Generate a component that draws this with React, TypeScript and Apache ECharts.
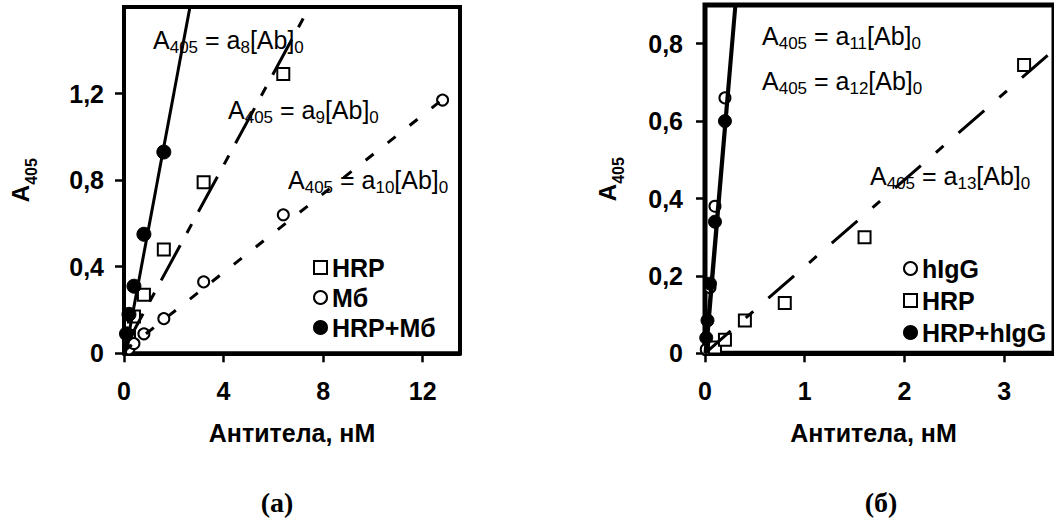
import React, { useEffect, useRef } from "react";
import * as echarts from "echarts";

// ---------- data: panel (а) ----------
const hrpA = [[0.2, 0.08], [0.4, 0.17], [0.8, 0.27], [1.6, 0.48], [3.2, 0.79], [6.4, 1.29]];
const mbA = [[0.2, 0.02], [0.4, 0.045], [0.8, 0.09], [1.6, 0.16], [3.2, 0.33], [6.4, 0.64], [12.8, 1.17]];
const mixA = [[0.1, 0.09], [0.2, 0.18], [0.4, 0.31], [0.8, 0.55], [1.6, 0.93]];
const fitA8 = [[0.05, 0], [2.65, 1.6]];
const fitA9 = [[0, 0.02], [7.45, 1.6]];
const fitA10 = [[0, 0.01], [13.1, 1.2]];
const xTicksA = [0, 4, 8, 12];
const yTicksA = [0, 0.4, 0.8, 1.2];

// ---------- data: panel (б) ----------
const hIgG = [[0.0125, 0.01], [0.05, 0.17], [0.1, 0.38], [0.2, 0.66]];
const hrpB = [[0.1, 0.015], [0.2, 0.035], [0.4, 0.085], [0.8, 0.13], [1.6, 0.3], [3.2, 0.745]];
const mixB = [[0.0125, 0.04], [0.025, 0.085], [0.05, 0.18], [0.1, 0.34], [0.2, 0.6]];
const fitB11 = [[0, 0], [0.3, 0.9]];
const fitB12 = [[0.015, 0], [0.31, 0.9]];
const fitB13 = [[0, 0], [3.5, 0.784]];
const xTicksB = [0, 1, 2, 3];
const yTicksB = [0, 0.2, 0.4, 0.6, 0.8];

const legendA = ["HRP", "Мб", "HRP+Мб"];
const legendB = ["hIgG", "HRP", "HRP+hIgG"];
const xTitle = "Антитела, нМ";

const FONT = "Liberation Sans";
const SERIF = "Liberation Serif";

const fmt = (v: number) => (v === 0 ? "0" : String(v).replace(".", ","));

const eqRich = {
  n: { fontSize: 25, fontFamily: FONT, fill: "#000", lineHeight: 30 },
  s: { fontSize: 17, fontFamily: FONT, fill: "#000", lineHeight: 30, padding: [14, 0, 0, 0] },
};
const eq = (k: string) => `{n|A}{s|405}{n| = a}{s|${k}}{n|[Ab]}{s|0}`;

const yNameRich = {
  a: { fontSize: 24, fontWeight: "bold", fontFamily: FONT, color: "#000", lineHeight: 28 },
  b: { fontSize: 16, fontWeight: "bold", fontFamily: FONT, color: "#000", lineHeight: 28, padding: [22, 0, 0, 0] },
};

function xAxis(gridIndex: number, max: number, ticks: number[], namePad: number[]) {
  return {
    type: "value",
    gridIndex,
    min: 0,
    max,
    splitLine: { show: false },
    axisLine: { show: true, onZero: false, lineStyle: { color: "#000", width: 4 } },
    axisTick: { show: true, inside: false, length: 9, customValues: ticks, lineStyle: { color: "#000", width: 2.5 } },
    axisLabel: {
      customValues: ticks,
      formatter: fmt,
      color: "#000",
      fontSize: 25,
      fontWeight: "bold",
      fontFamily: FONT,
      margin: 25,
    },
    name: xTitle,
    nameLocation: "middle",
    nameGap: 67,
    nameTextStyle: { color: "#000", fontSize: 25, fontWeight: "bold", fontFamily: FONT, padding: namePad },
  };
}

function yAxis(gridIndex: number, max: number, ticks: number[], margin: number, nameGap: number) {
  return {
    type: "value",
    gridIndex,
    min: 0,
    max,
    splitLine: { show: false },
    axisLine: { show: true, onZero: false, lineStyle: { color: "#000", width: 4 } },
    axisTick: { show: true, inside: false, length: 9, customValues: ticks, lineStyle: { color: "#000", width: 2.5 } },
    axisLabel: {
      customValues: ticks,
      formatter: fmt,
      color: "#000",
      fontSize: 25,
      fontWeight: "bold",
      fontFamily: FONT,
      margin,
    },
    name: "{a|A}{b|405}",
    nameLocation: "middle",
    nameGap,
    nameTextStyle: { rich: yNameRich },
  };
}

const openStyle = { color: "#fff", borderColor: "#000", borderWidth: 2, opacity: 1 };
const fillStyle = { color: "#000", borderColor: "#000", borderWidth: 1, opacity: 1 };

function scatter(name: string, data: number[][], gi: number, symbol: string, size: number, style: any) {
  return {
    type: "scatter",
    name,
    xAxisIndex: gi,
    yAxisIndex: gi,
    data,
    symbol,
    symbolSize: size,
    itemStyle: style,
    emphasis: { disabled: true },
    z: 3,
  };
}

function fit(data: number[][], gi: number, dash: any, width = 3) {
  return {
    type: "line",
    xAxisIndex: gi,
    yAxisIndex: gi,
    data,
    showSymbol: false,
    symbol: "none",
    silent: true,
    clip: true,
    lineStyle: { color: "#000", width, type: dash },
    z: 5,
  };
}

function legend(left: number, top: number, data: string[], gap: number) {
  return {
    orient: "vertical",
    left,
    top,
    itemWidth: 13,
    itemHeight: 13,
    itemGap: gap,
    selectedMode: false,
    data,
    itemStyle: { opacity: 1 },
    textStyle: { color: "#000", fontSize: 25, fontWeight: "bold", fontFamily: FONT, lineHeight: 25 },
  };
}

function eqText(x: number, y: number, k: string) {
  return {
    type: "text",
    x,
    y,
    z: 1,
    style: { text: eq(k), rich: eqRich, verticalAlign: "middle", align: "left" },
  };
}

export default function App() {
  const ref = useRef<HTMLDivElement>(null);
  useEffect(() => {
    document.body.style.margin = "0";
    if (!ref.current) return;
    const chart = echarts.init(ref.current, undefined, { renderer: "svg" });
    chart.setOption({
      animation: false,
      backgroundColor: "#fff",
      grid: [
        { left: 121.7, top: 7, width: 338.3, height: 346.3, show: true, borderColor: "#000", borderWidth: 4, backgroundColor: "transparent" },
        { left: 705, top: 5, width: 356, height: 348.3, show: true, borderColor: "#000", borderWidth: 5, backgroundColor: "transparent" },
      ],
      xAxis: [xAxis(0, 13.5, xTicksA, [0, 0, 0, 0]), xAxis(1, 3.5, xTicksB, [0, 12, 0, 0])],
      yAxis: [yAxis(0, 1.6, yTicksA, 20, 90), yAxis(1, 0.9, yTicksB, 22, 84)],
      legend: [legend(308, 250, legendA, 5), legend(898, 251, legendB, 7)],
      series: [
        scatter("HRP", hrpA, 0, "rect", 12, openStyle),
        scatter("Мб", mbA, 0, "circle", 11, openStyle),
        scatter("HRP+Мб", mixA, 0, "circle", 14, fillStyle),
        fit(fitA8, 0, "solid"),
        fit(fitA9, 0, [40, 14, 10, 14]),
        fit(fitA10, 0, [10, 18]),
        scatter("hIgG", hIgG, 1, "circle", 11, openStyle),
        scatter("HRP", hrpB, 1, "rect", 12, openStyle),
        scatter("HRP+hIgG", mixB, 1, "circle", 13, fillStyle),
        fit(fitB11, 1, "solid"),
        fit(fitB12, 1, "solid"),
        fit(fitB13, 1, [34, 20, 10, 20]),
      ],
      graphic: [
        eqText(153, 40, "8"),
        eqText(228, 110, "9"),
        eqText(288, 180, "10"),
        eqText(762, 36, "11"),
        eqText(762, 81, "12"),
        eqText(870, 176, "13"),
        {
          type: "text",
          x: 277,
          y: 502,
          style: { text: "(а)", font: `bold 28px ${SERIF}`, fill: "#000", align: "center", verticalAlign: "middle" },
        },
        {
          type: "text",
          x: 881,
          y: 502,
          style: { text: "(б)", font: `bold 28px ${SERIF}`, fill: "#000", align: "center", verticalAlign: "middle" },
        },
      ],
    });
    return () => chart.dispose();
  }, []);
  return <div ref={ref} style={{ width: 1054, height: 520 }} />;
}
